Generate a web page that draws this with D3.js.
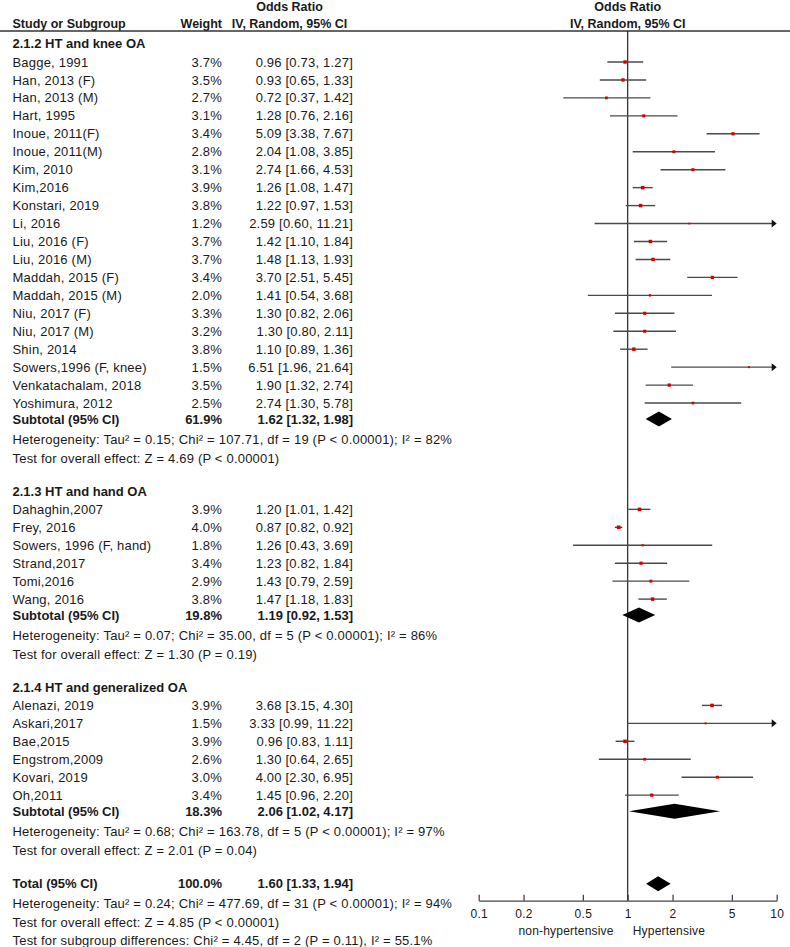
<!DOCTYPE html>
<html>
<head>
<meta charset="utf-8">
<script src="https://cdn.jsdelivr.net/npm/d3@7/dist/d3.min.js"></script>
<style>
  html, body { margin: 0; padding: 0; background: #fff; }
  svg { display: block; }
  text { font-family: "Liberation Sans", Arial, sans-serif; fill: #1a1a1a; }
</style>
</head>
<body>
<script>
// ---------------- DATA ----------------
const groupNames = ["2.1.2 HT and knee OA", "2.1.3 HT and hand OA", "2.1.4 HT and generalized OA"];

const kneeStudies = ["Bagge, 1991","Han, 2013 (F)","Han, 2013 (M)","Hart, 1995","Inoue, 2011(F)","Inoue, 2011(M)","Kim, 2010","Kim,2016","Konstari, 2019","Li, 2016","Liu, 2016 (F)","Liu, 2016 (M)","Maddah, 2015 (F)","Maddah, 2015 (M)","Niu, 2017 (F)","Niu, 2017 (M)","Shin, 2014","Sowers,1996 (F, knee)","Venkatachalam, 2018","Yoshimura, 2012"];
const kneeWeight = [3.7,3.5,2.7,3.1,3.4,2.8,3.1,3.9,3.8,1.2,3.7,3.7,3.4,2.0,3.3,3.2,3.8,1.5,3.5,2.5];
const kneeOR     = [0.96,0.93,0.72,1.28,5.09,2.04,2.74,1.26,1.22,2.59,1.42,1.48,3.70,1.41,1.30,1.30,1.10,6.51,1.90,2.74];
const kneeLower  = [0.73,0.65,0.37,0.76,3.38,1.08,1.66,1.08,0.97,0.60,1.10,1.13,2.51,0.54,0.82,0.80,0.89,1.96,1.32,1.30];
const kneeUpper  = [1.27,1.33,1.42,2.16,7.67,3.85,4.53,1.47,1.53,11.21,1.84,1.93,5.45,3.68,2.06,2.11,1.36,21.64,2.74,5.78];

const handStudies = ["Dahaghin,2007","Frey, 2016","Sowers, 1996 (F, hand)","Strand,2017","Tomi,2016","Wang, 2016"];
const handWeight = [3.9,4.0,1.8,3.4,2.9,3.8];
const handOR     = [1.20,0.87,1.26,1.23,1.43,1.47];
const handLower  = [1.01,0.82,0.43,0.82,0.79,1.18];
const handUpper  = [1.42,0.92,3.69,1.84,2.59,1.83];

const genStudies = ["Alenazi, 2019","Askari,2017","Bae,2015","Engstrom,2009","Kovari, 2019","Oh,2011"];
const genWeight = [3.9,1.5,3.9,2.6,3.0,3.4];
const genOR     = [3.68,3.33,0.96,1.30,4.00,1.45];
const genLower  = [3.15,0.99,0.83,0.64,2.30,0.96];
const genUpper  = [4.30,11.22,1.11,2.65,6.95,2.20];

const subtotalWeight = [61.9,19.8,18.3];
const subtotalOR     = [1.62,1.19,2.06];
const subtotalLower  = [1.32,0.92,1.02];
const subtotalUpper  = [1.98,1.53,4.17];
const subtotalHet = [
  "Heterogeneity: Tau\u00B2 = 0.15; Chi\u00B2 = 107.71, df = 19 (P < 0.00001); I\u00B2 = 82%",
  "Heterogeneity: Tau\u00B2 = 0.07; Chi\u00B2 = 35.00, df = 5 (P < 0.00001); I\u00B2 = 86%",
  "Heterogeneity: Tau\u00B2 = 0.68; Chi\u00B2 = 163.78, df = 5 (P < 0.00001); I\u00B2 = 97%"
];
const subtotalTest = [
  "Test for overall effect: Z = 4.69 (P < 0.00001)",
  "Test for overall effect: Z = 1.30 (P = 0.19)",
  "Test for overall effect: Z = 2.01 (P = 0.04)"
];

const totalWeight = 100.0;
const totalOR = 1.60, totalLower = 1.33, totalUpper = 1.94;
const totalNotes = [
  "Heterogeneity: Tau\u00B2 = 0.24; Chi\u00B2 = 477.69, df = 31 (P < 0.00001); I\u00B2 = 94%",
  "Test for overall effect: Z = 4.85 (P < 0.00001)",
  "Test for subgroup differences: Chi\u00B2 = 4.45, df = 2 (P = 0.11), I\u00B2 = 55.1%"
];

const axisTicks = [0.1, 0.2, 0.5, 1, 2, 5, 10];
const axisLabelLeft = "non-hypertensive";
const axisLabelRight = "Hypertensive";
const headerStudy = "Study or Subgroup";
const headerWeight = "Weight";
const headerOR = "Odds Ratio";
const headerMethod = "IV, Random, 95% CI";

// ---------------- LAYOUT ----------------
const W = 790, H = 947;
const svg = d3.select("body").append("svg").attr("width", W).attr("height", H);

const x = d3.scaleLog().domain([0.1, 10]).range([478.7, 776.7]);
const xName = 12.5, xWeight = 222, xCI = 353, xMidText = 289.5;
const fs = 13, fsHead = 12.5;
const axisY = 900.7;
const headerLineY = 31;

const groups = [
  {studies: kneeStudies, w: kneeWeight, or: kneeOR, lo: kneeLower, hi: kneeUpper},
  {studies: handStudies, w: handWeight, or: handOR, lo: handLower, hi: handUpper},
  {studies: genStudies, w: genWeight, or: genOR, lo: genLower, hi: genUpper}
];

const rows = [];
let y = 43.7;
groups.forEach((g, gi) => {
  if (gi > 0) y += 32.7;
  rows.push({type: "group", y, label: groupNames[gi]});
  y += 18.3;
  g.studies.forEach((s, i) => {
    if (i > 0) y += 17.95;
    rows.push({type: "study", y, label: s, w: g.w[i], or: g.or[i], lo: g.lo[i], hi: g.hi[i]});
  });
  y += 16;
  rows.push({type: "subtotal", y, label: "Subtotal (95% CI)", w: subtotalWeight[gi], or: subtotalOR[gi], lo: subtotalLower[gi], hi: subtotalUpper[gi]});
  y += 20;
  rows.push({type: "note", y, label: subtotalHet[gi]});
  y += 19.3;
  rows.push({type: "note", y, label: subtotalTest[gi]});
});
y += 33.4;
rows.push({type: "subtotal", y, label: "Total (95% CI)", w: totalWeight, or: totalOR, lo: totalLower, hi: totalUpper});
y += 19.3;
rows.push({type: "note", y, label: totalNotes[0]});
y += 19;
rows.push({type: "note", y, label: totalNotes[1]});
y += 18.3;
rows.push({type: "note", y, label: totalNotes[2]});

const f2 = d3.format(".2f");
const ciText = d => `${f2(d.or)} [${f2(d.lo)}, ${f2(d.hi)}]`;
const wText = d => d3.format(".1f")(d.w) + "%";

function txt(xp, yp, s, anchor, bold, size) {
  return svg.append("text")
    .attr("x", xp).attr("y", yp).attr("dy", "0.35em")
    .attr("text-anchor", anchor || "start")
    .style("font-size", (size || fs) + "px")
    .style("font-weight", bold ? "bold" : "normal")
    .style("letter-spacing", bold ? "0px" : "0.2px")
    .text(s);
}

// ---------------- HEADER ----------------
txt(xMidText, 6.5, headerOR, "middle", true, fsHead);
txt(xName, 23.5, headerStudy, "start", true, fsHead);
txt(xWeight, 23.5, headerWeight, "end", true, fsHead);
txt(xMidText, 23.5, headerMethod, "middle", true, fsHead);
txt(x(1), 6.5, headerOR, "middle", true, fsHead);
txt(x(1), 23.5, headerMethod, "middle", true, fsHead);
svg.append("line").attr("x1", 0).attr("x2", W).attr("y1", headerLineY).attr("y2", headerLineY)
  .attr("stroke", "#333").attr("stroke-width", 1.4);

// vertical no-effect line
svg.append("line").attr("x1", x(1)).attr("x2", x(1)).attr("y1", headerLineY).attr("y2", axisY)
  .attr("stroke", "#111").attr("stroke-width", 1.1);

// ---------------- ROWS ----------------
rows.forEach(r => {
  if (r.type === "group") {
    txt(xName, r.y, r.label, "start", true);
  } else if (r.type === "note") {
    txt(xName, r.y, r.label, "start", false);
  } else if (r.type === "study") {
    txt(xName, r.y, r.label, "start", false);
    txt(xWeight, r.y, wText(r), "end", false);
    txt(xCI, r.y, ciText(r), "end", false);
    const [d0, d1] = x.domain();
    const lo = Math.max(r.lo, d0), hi = Math.min(r.hi, d1);
    const arrowR = r.hi > d1;
    svg.append("line")
      .attr("x1", x(lo)).attr("x2", arrowR ? x(hi) - 3 : x(hi))
      .attr("y1", r.y).attr("y2", r.y)
      .attr("stroke", "#4a4a4a").attr("stroke-width", 1.4);
    if (arrowR) {
      const xe = x(d1);
      svg.append("path")
        .attr("d", `M${xe},${r.y} L${xe - 5},${r.y - 4} L${xe - 5},${r.y + 4} Z`)
        .attr("fill", "#111");
    }
    const s = 1 + 0.65 * r.w;
    svg.append("rect")
      .attr("x", x(r.or) - s / 2).attr("y", r.y - s / 2)
      .attr("width", s).attr("height", s)
      .attr("fill", "#d40000");
  } else if (r.type === "subtotal") {
    txt(xName, r.y, r.label, "start", true);
    txt(xWeight, r.y, wText(r), "end", true);
    txt(xCI, r.y, ciText(r), "end", true);
    const h = 7.5;
    svg.append("path")
      .attr("d", `M${x(r.lo)},${r.y} L${x(r.or)},${r.y - h} L${x(r.hi)},${r.y} L${x(r.or)},${r.y + h} Z`)
      .attr("fill", "#000");
  }
});

// ---------------- AXIS ----------------
const axis = d3.axisBottom(x)
  .tickValues(axisTicks)
  .tickFormat(d3.format("~g"))
  .tickSizeInner(-6)
  .tickSizeOuter(0)
  .tickPadding(8.5);
const gAxis = svg.append("g").attr("transform", `translate(0,${axisY})`).call(axis);
gAxis.selectAll("path, line").attr("stroke", "#444").attr("stroke-width", 1.3);
gAxis.selectAll("text")
  .style("font-family", '"Liberation Sans", Arial, sans-serif')
  .style("font-size", "12px").style("letter-spacing", "0.3px").attr("fill", "#1a1a1a");

txt(x(1) - 14, 930.5, axisLabelLeft, "end", false, 12);
txt(x(1) + 5, 930.5, axisLabelRight, "start", false, 12);
</script>
</body>
</html>
